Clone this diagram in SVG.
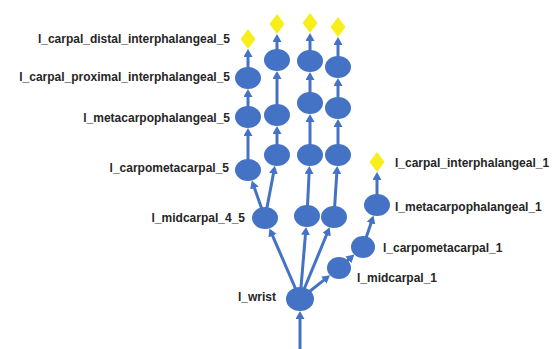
<svg xmlns="http://www.w3.org/2000/svg" width="560" height="349" viewBox="0 0 560 349">
<style>
.j{fill:#4472C4}
.d{fill:#F7EE1C}
.e{stroke:#4472C4;stroke-width:3;fill:none;marker-end:url(#ah)}
text{font-family:"Liberation Sans",Arial,sans-serif;font-size:12px;font-weight:bold;fill:#262626}
.r{text-anchor:end}
</style>
<defs>
<marker id="ah" markerUnits="userSpaceOnUse" markerWidth="9" markerHeight="9" refX="1" refY="4.5" orient="auto">
<path d="M0,0 L8,4.5 L0,9 z" fill="#4472C4"/>
</marker>
</defs>
<rect width="560" height="349" fill="#fff"/>
<g id="connectors">
<line class="e" x1="300" y1="349" x2="300" y2="318"/>
<line class="e" x1="300" y1="299" x2="272.2" y2="234.8"/>
<line class="e" x1="300" y1="299" x2="305.5" y2="233.9"/>
<line class="e" x1="300" y1="299" x2="327" y2="233.8"/>
<line class="e" x1="300" y1="299" x2="324.5" y2="279.6"/>
<line class="e" x1="265" y1="218" x2="254.1" y2="187.1"/>
<line class="e" x1="265" y1="218" x2="273.6" y2="172.7"/>
<line class="e" x1="248" y1="170" x2="248" y2="135"/>
<line class="e" x1="248" y1="117" x2="248" y2="96"/>
<line class="e" x1="248" y1="78" x2="248" y2="56"/>
<line class="e" x1="277" y1="155" x2="277" y2="133"/>
<line class="e" x1="277" y1="115" x2="277" y2="78"/>
<line class="e" x1="277" y1="60" x2="277" y2="41"/>
<line class="e" x1="307" y1="216" x2="309.1" y2="173"/>
<line class="e" x1="310" y1="155" x2="310" y2="121"/>
<line class="e" x1="310" y1="103" x2="310" y2="79"/>
<line class="e" x1="310" y1="61" x2="310" y2="40"/>
<line class="e" x1="334" y1="217" x2="336.8" y2="173"/>
<line class="e" x1="338" y1="155" x2="338" y2="126"/>
<line class="e" x1="338" y1="108" x2="338" y2="85"/>
<line class="e" x1="338" y1="67" x2="338" y2="44"/>
<line class="e" x1="339" y1="268" x2="349.1" y2="259.2"/>
<line class="e" x1="363" y1="247" x2="371.3" y2="222.2"/>
<line class="e" x1="377" y1="205" x2="377" y2="179"/>
</g>
<g id="l_wrist"><ellipse class="j" cx="300" cy="299" rx="14" ry="12"/><text class="r" x="276" y="301">l_wrist</text></g>
<g id="l_midcarpal_4_5"><ellipse class="j" cx="265" cy="218" rx="13" ry="11"/><text class="r" x="245" y="222">l_midcarpal_4_5</text></g>
<g id="l_carpometacarpal_5"><ellipse class="j" cx="248" cy="170" rx="13" ry="11"/><text class="r" x="229" y="172">l_carpometacarpal_5</text></g>
<g id="l_metacarpophalangeal_5"><ellipse class="j" cx="248" cy="117" rx="13" ry="11"/><text class="r" x="230" y="122">l_metacarpophalangeal_5</text></g>
<g id="l_carpal_proximal_interphalangeal_5"><ellipse class="j" cx="248" cy="78" rx="13" ry="11"/><text class="r" x="230" y="81">l_carpal_proximal_interphalangeal_5</text></g>
<g id="l_carpal_distal_interphalangeal_5"><path class="d" d="M248,29 L255.5,39 L248,49 L240.5,39 z"/><text class="r" x="230" y="43">l_carpal_distal_interphalangeal_5</text></g>
<g id="l_carpometacarpal_4"><ellipse class="j" cx="277" cy="155" rx="13" ry="11"/></g>
<g id="l_metacarpophalangeal_4"><ellipse class="j" cx="277" cy="115" rx="13" ry="11"/></g>
<g id="l_carpal_proximal_interphalangeal_4"><ellipse class="j" cx="277" cy="60" rx="13" ry="11"/></g>
<g id="l_carpal_distal_interphalangeal_4"><path class="d" d="M277,14 L284.5,24 L277,34 L269.5,24 z"/></g>
<g id="l_midcarpal_3"><ellipse class="j" cx="307" cy="216" rx="13" ry="11"/></g>
<g id="l_carpometacarpal_3"><ellipse class="j" cx="310" cy="155" rx="13" ry="11"/></g>
<g id="l_metacarpophalangeal_3"><ellipse class="j" cx="310" cy="103" rx="13" ry="11"/></g>
<g id="l_carpal_proximal_interphalangeal_3"><ellipse class="j" cx="310" cy="61" rx="13" ry="11"/></g>
<g id="l_carpal_distal_interphalangeal_3"><path class="d" d="M310,13 L317.5,23 L310,33 L302.5,23 z"/></g>
<g id="l_midcarpal_2"><ellipse class="j" cx="334" cy="217" rx="13" ry="11"/></g>
<g id="l_carpometacarpal_2"><ellipse class="j" cx="338" cy="155" rx="13" ry="11"/></g>
<g id="l_metacarpophalangeal_2"><ellipse class="j" cx="338" cy="108" rx="13" ry="11"/></g>
<g id="l_carpal_proximal_interphalangeal_2"><ellipse class="j" cx="338" cy="67" rx="13" ry="11"/></g>
<g id="l_carpal_distal_interphalangeal_2"><path class="d" d="M338,17 L345.5,27 L338,37 L330.5,27 z"/></g>
<g id="l_midcarpal_1"><ellipse class="j" cx="339" cy="268" rx="12" ry="11"/><text x="357" y="282">l_midcarpal_1</text></g>
<g id="l_carpometacarpal_1"><ellipse class="j" cx="363" cy="247" rx="12" ry="11"/><text x="383" y="252">l_carpometacarpal_1</text></g>
<g id="l_metacarpophalangeal_1"><ellipse class="j" cx="377" cy="205" rx="13" ry="11"/><text x="395" y="211">l_metacarpophalangeal_1</text></g>
<g id="l_carpal_interphalangeal_1"><path class="d" d="M377,152 L384.5,162 L377,172 L369.5,162 z"/><text x="395" y="167">l_carpal_interphalangeal_1</text></g>
</svg>
